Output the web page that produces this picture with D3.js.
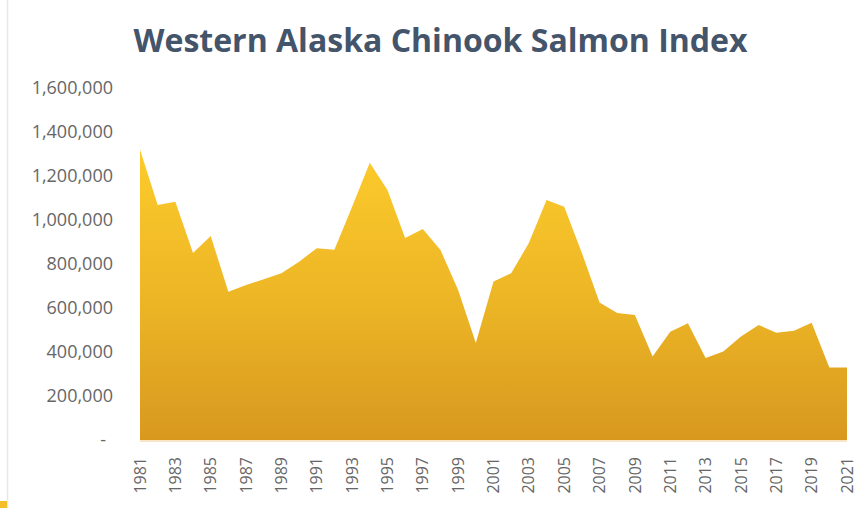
<!DOCTYPE html>
<html>
<head>
<meta charset="utf-8">
<script src="https://cdn.jsdelivr.net/npm/d3@7/dist/d3.min.js"></script>
<style>
  html, body { margin: 0; padding: 0; background: #ffffff; }
  svg { display: block; }
</style>
</head>
<body>
<svg id="chart" width="867" height="508"></svg>
<script>
// Western Alaska Chinook run index, 1981-2021
const years = d3.range(1981, 2022);
const runIndex = [
  1320000, 1068000, 1083000, 850000, 927000, 674000, 704000, 731000, 758000, 810000,
  872000, 865000, 1060000, 1260000, 1136000, 918000, 959000, 864000, 682000, 441000,
  720000, 758000, 895000, 1091000, 1060000, 850000, 625000, 577000, 568000, 379000,
  492000, 531000, 373000, 402000, 470000, 523000, 488000, 497000, 533000, 330000,
  330000
];
const yTicks = [0, 200000, 400000, 600000, 800000, 1000000, 1200000, 1400000, 1600000];
const yearTicks = d3.range(1981, 2022, 2);
const titleText = "Western Alaska Chinook Salmon Index";

const svg = d3.select("#chart");
const plot = { left: 140, right: 847, top: 88, bottom: 440 };

const x = d3.scaleLinear().domain([1981, 2021]).range([plot.left, plot.right]);
const y = d3.scaleLinear().domain([0, 1600000]).range([plot.bottom, plot.top]);

// page edge accents
svg.append("line")
  .attr("x1", 7.5).attr("x2", 7.5).attr("y1", 0).attr("y2", 508)
  .attr("stroke", "#e8e8e8").attr("stroke-width", 1.5);
svg.append("rect")
  .attr("x", 0).attr("y", 501).attr("width", 7).attr("height", 7)
  .attr("fill", "#f4bd2a");

// vertical gold gradient for the area
const defs = svg.append("defs");
const grad = defs.append("linearGradient")
  .attr("id", "goldFill")
  .attr("gradientUnits", "userSpaceOnUse")
  .attr("x1", 0).attr("x2", 0)
  .attr("y1", y(1320000)).attr("y2", plot.bottom);
grad.append("stop").attr("offset", 0).attr("stop-color", "#fdcb2c");
grad.append("stop").attr("offset", 0.55).attr("stop-color", "#ebb425");
grad.append("stop").attr("offset", 1).attr("stop-color", "#d8981f");

// title
svg.append("text")
  .attr("x", 440.5).attr("y", 52)
  .attr("text-anchor", "middle")
  .attr("textLength", 614)
  .attr("lengthAdjust", "spacingAndGlyphs")
  .style("font-family", "'Open Sans', 'Noto Sans', sans-serif")
  .style("font-weight", 700)
  .style("font-size", "33px")
  .style("fill", "#44546a")
  .text(titleText);

// area
const area = d3.area()
  .x((d, i) => x(years[i]))
  .y0(y(0))
  .y1(d => y(d));

svg.append("path")
  .datum(runIndex)
  .attr("d", area)
  .attr("fill", "url(#goldFill)");

// baseline under the area
svg.append("line")
  .attr("x1", plot.left).attr("x2", plot.right)
  .attr("y1", plot.bottom + 1).attr("y2", plot.bottom + 1)
  .attr("stroke", "#f6ddb2").attr("stroke-width", 1.5);

// y axis
const fmt = d3.format(",");
const yAxis = d3.axisLeft(y)
  .tickValues(yTicks)
  .tickSize(0)
  .tickPadding(27)
  .tickFormat(d => d === 0 ? "-" : fmt(d));

const gy = svg.append("g")
  .attr("transform", `translate(${plot.left},0)`)
  .call(yAxis);
gy.select(".domain").remove();
gy.selectAll("text")
  .style("font-family", "'Open Sans', 'Noto Sans', sans-serif")
  .style("font-size", "18px")
  .style("fill", "#666666")
  .attr("dx", d => d === 0 ? -7 : 0);

// x axis labels, rotated
const gx = svg.append("g");
gx.selectAll("text")
  .data(yearTicks)
  .join("text")
  .attr("transform", d => `translate(${x(d)},457) rotate(-90)`)
  .attr("text-anchor", "end")
  .attr("dy", "0.35em")
  .style("font-family", "'Open Sans', 'Noto Sans', sans-serif")
  .style("font-size", "16px")
  .style("fill", "#666666")
  .text(d => d);
</script>
</body>
</html>
